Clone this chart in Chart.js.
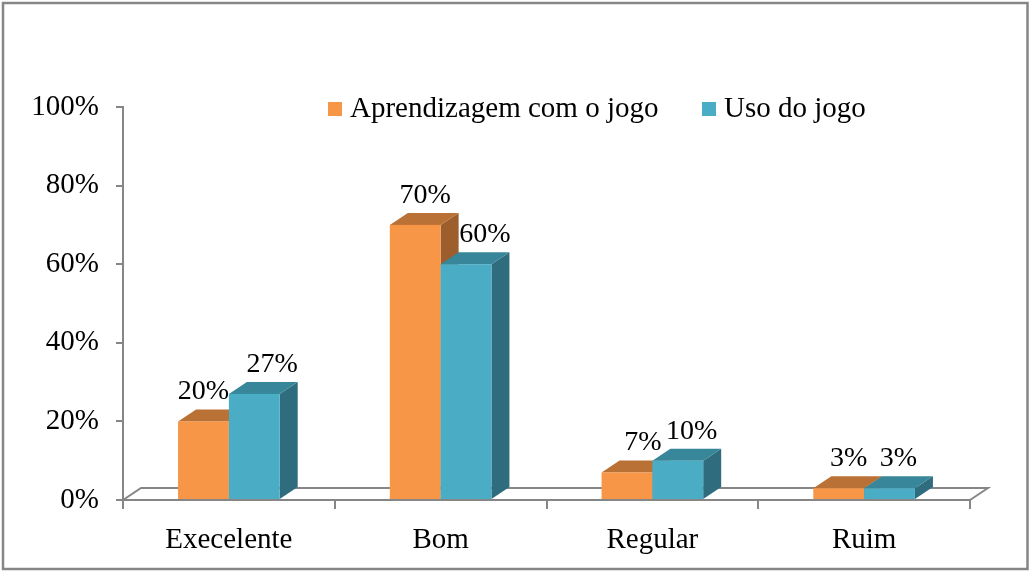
<!DOCTYPE html>
<html>
<head>
<meta charset="utf-8">
<script src="https://cdn.jsdelivr.net/npm/chart.js@4"></script>
<style>
  html, body { margin: 0; padding: 0; background: #fff; }
  #wrap { width: 1031px; height: 573px; }
</style>
</head>
<body>
<div id="wrap"><canvas id="chart" width="1031" height="573"></canvas></div>
<script>
const categories = ['Execelente', 'Bom', 'Regular', 'Ruim'];
const seriesNames = ['Aprendizagem com o jogo', 'Uso do jogo'];
const aprendizagem = [20, 70, 7, 3];
const usoDoJogo = [27, 60, 10, 3];
const yTicks = [0, 20, 40, 60, 80, 100];

const FONT = '"Liberation Serif", "DejaVu Serif", serif';
const AXIS = '#868686';
const DX = 18, DY = 12; // profundidade 3D

// cores: frente, topo, lado
const faces = [
  {front: '#F79646', top: '#BA7135', side: '#9C5E2D'},
  {front: '#4BACC6', top: '#37869A', side: '#2F6C7E'},
];
// deslocamento horizontal dos rótulos, por série e categoria
const labelNudge = [[0, 10, 16, 10], [18, 19, 14, 9]];

const shade = (ctx, pts, color) => {
  ctx.beginPath();
  ctx.moveTo(pts[0][0], pts[0][1]);
  for (let i = 1; i < pts.length; i++) ctx.lineTo(pts[i][0], pts[i][1]);
  ctx.closePath();
  ctx.fillStyle = color;
  ctx.fill();
};

const bars3d = {
  id: 'bars3d',
  beforeDatasetsDraw(chart) {
    const {ctx, chartArea: a} = chart;
    ctx.save();
    // piso
    ctx.strokeStyle = AXIS;
    ctx.lineWidth = 2;
    ctx.beginPath();
    ctx.moveTo(a.left, a.bottom);
    ctx.lineTo(a.left + DX, a.bottom - DY);
    ctx.lineTo(a.right + DX, a.bottom - DY);
    ctx.lineTo(a.right, a.bottom);
    ctx.stroke();
    // topo e lateral de cada barra, atrás das faces frontais
    for (let i = 0; i < categories.length; i++) {
      chart.data.datasets.forEach((ds, d) => {
        const bar = chart.getDatasetMeta(d).data[i];
        const l = bar.x - bar.width / 2, r = bar.x + bar.width / 2;
        const t = bar.y, b = bar.base;
        shade(ctx, [[r, t], [r + DX, t - DY], [r + DX, b - DY], [r, b]], faces[d].side);
        shade(ctx, [[l, t], [l + DX, t - DY], [r + DX, t - DY], [r, t]], faces[d].top);
        // frente desenhada aqui para manter a ordem de sobreposição
        ctx.fillStyle = faces[d].front;
        ctx.fillRect(l, t, r - l, b - t);
      });
    }
    ctx.restore();
  },
  afterDatasetsDraw(chart) {
    const {ctx} = chart;
    ctx.save();
    ctx.font = '28px ' + FONT;
    ctx.fillStyle = '#000';
    ctx.textAlign = 'center';
    ctx.textBaseline = 'alphabetic';
    chart.data.datasets.forEach((ds, d) => {
      chart.getDatasetMeta(d).data.forEach((bar, i) => {
        ctx.fillText(ds.data[i] + '%', bar.x + labelNudge[d][i], bar.y - 22);
      });
    });
    ctx.restore();
  },
  afterDraw(chart) {
    const {ctx} = chart;
    ctx.save();
    // legenda
    ctx.font = '29px ' + FONT;
    ctx.textBaseline = 'alphabetic';
    ctx.textAlign = 'left';
    const legendX = [328, 702];
    chart.data.datasets.forEach((ds, d) => {
      ctx.fillStyle = faces[d].front;
      ctx.fillRect(legendX[d], 102, 14, 14);
      ctx.fillStyle = '#000';
      ctx.fillText(ds.label, legendX[d] + 22, 117);
    });
    // moldura
    ctx.strokeStyle = AXIS;
    ctx.lineWidth = 2.5;
    ctx.strokeRect(3, 3, 1024.5, 566);
    ctx.restore();
  }
};

new Chart(document.getElementById('chart'), {
  type: 'bar',
  data: {
    labels: categories,
    datasets: [
      {label: seriesNames[0], data: aprendizagem, backgroundColor: 'rgba(0,0,0,0)'},
      {label: seriesNames[1], data: usoDoJogo, backgroundColor: 'rgba(0,0,0,0)'},
    ],
  },
  options: {
    responsive: false,
    animation: false,
    devicePixelRatio: 1,
    layout: {padding: {left: 0, top: 107, right: 61, bottom: 0}},
    datasets: {bar: {categoryPercentage: 0.48, barPercentage: 1}},
    plugins: {legend: {display: false}, tooltip: {enabled: false}},
    scales: {
      x: {
        grid: {offset: true, drawOnChartArea: false, drawTicks: true, tickLength: 9, color: AXIS, lineWidth: 2},
        border: {display: true, color: AXIS, width: 2},
        ticks: {color: '#000', font: {family: FONT, size: 29}, padding: 14},
        afterFit(scale) { scale.height = 73; },
      },
      y: {
        min: 0,
        max: 100,
        afterBuildTicks(scale) { scale.ticks = yTicks.map(v => ({value: v})); },
        grid: {drawOnChartArea: false, drawTicks: true, tickLength: 7, color: AXIS, lineWidth: 2},
        border: {display: true, color: AXIS, width: 2},
        ticks: {color: '#000', font: {family: FONT, size: 29}, padding: 17, callback: v => v + '%'},
        afterFit(scale) { scale.width = 123; },
      },
    },
  },
  plugins: [bars3d],
});
</script>
</body>
</html>
